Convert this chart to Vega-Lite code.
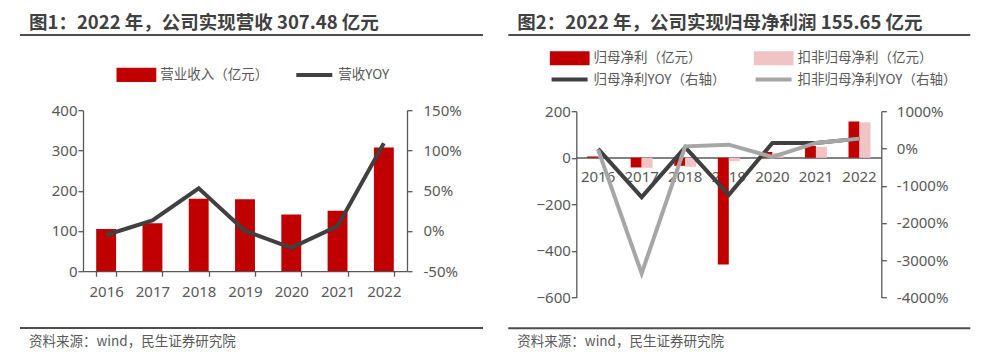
{
  "$schema": "https://vega.github.io/schema/vega-lite/v6.json",
  "padding": {"left": 19, "top": 13, "right": 0, "bottom": 0},
  "background": "white",
  "datasets": {
    "rev": [
      {"year": "2016", "series": "营业收入（亿元）", "value": 105},
      {"year": "2017", "series": "营业收入（亿元）", "value": 119},
      {"year": "2018", "series": "营业收入（亿元）", "value": 180},
      {"year": "2019", "series": "营业收入（亿元）", "value": 179},
      {"year": "2020", "series": "营业收入（亿元）", "value": 141},
      {"year": "2021", "series": "营业收入（亿元）", "value": 150},
      {"year": "2022", "series": "营业收入（亿元）", "value": 307.48}
    ],
    "revyoy": [
      {"year": "2016", "series": "营收YOY", "value": -5},
      {"year": "2017", "series": "营收YOY", "value": 13},
      {"year": "2018", "series": "营收YOY", "value": 53},
      {"year": "2019", "series": "营收YOY", "value": 0},
      {"year": "2020", "series": "营收YOY", "value": -21},
      {"year": "2021", "series": "营收YOY", "value": 6},
      {"year": "2022", "series": "营收YOY", "value": 109}
    ],
    "profit": [
      {"year": "2016", "series": "归母净利（亿元）", "value": 5.6},
      {"year": "2017", "series": "归母净利（亿元）", "value": -41.6},
      {"year": "2018", "series": "归母净利（亿元）", "value": -34.6},
      {"year": "2019", "series": "归母净利（亿元）", "value": -458},
      {"year": "2020", "series": "归母净利（亿元）", "value": 25},
      {"year": "2021", "series": "归母净利（亿元）", "value": 51},
      {"year": "2022", "series": "归母净利（亿元）", "value": 155.65},
      {"year": "2016", "series": "扣非归母净利（亿元）", "value": 1},
      {"year": "2017", "series": "扣非归母净利（亿元）", "value": -43},
      {"year": "2018", "series": "扣非归母净利（亿元）", "value": -39},
      {"year": "2019", "series": "扣非归母净利（亿元）", "value": -14.6},
      {"year": "2020", "series": "扣非归母净利（亿元）", "value": 20},
      {"year": "2021", "series": "扣非归母净利（亿元）", "value": 47},
      {"year": "2022", "series": "扣非归母净利（亿元）", "value": 152}
    ],
    "profityoy": [
      {"year": "2016", "series": "归母净利YOY（右轴）", "value": -13},
      {"year": "2017", "series": "归母净利YOY（右轴）", "value": -1307},
      {"year": "2018", "series": "归母净利YOY（右轴）", "value": 30},
      {"year": "2019", "series": "归母净利YOY（右轴）", "value": -1245},
      {"year": "2020", "series": "归母净利YOY（右轴）", "value": 148},
      {"year": "2021", "series": "归母净利YOY（右轴）", "value": 148},
      {"year": "2022", "series": "归母净利YOY（右轴）", "value": 264},
      {"year": "2016", "series": "扣非归母净利YOY（右轴）", "value": -32},
      {"year": "2017", "series": "扣非归母净利YOY（右轴）", "value": -3354},
      {"year": "2018", "series": "扣非归母净利YOY（右轴）", "value": 57},
      {"year": "2019", "series": "扣非归母净利YOY（右轴）", "value": 102},
      {"year": "2020", "series": "扣非归母净利YOY（右轴）", "value": -229},
      {"year": "2021", "series": "扣非归母净利YOY（右轴）", "value": 148},
      {"year": "2022", "series": "扣非归母净利YOY（右轴）", "value": 264}
    ],
    "deco": [{"k": 1}],
    "none": []
  },
  "config": {
    "view": {"stroke": null},
    "axis": {"labelFont": "Noto Sans", "labelFontSize": 15, "labelColor": "#595959", "domainColor": "#595959", "tickColor": "#595959", "domainWidth": 1.3, "tickWidth": 1.3, "grid": false, "title": null},
    "title": {"font": "Noto Sans CJK SC"}
  },
  "hconcat": [
    {
      "spacing": 27,
      "resolve": {"scale": {"color": "independent"}, "legend": {"color": "independent"}},
      "vconcat": [
        {
          "spacing": 30.2,
          "resolve": {"scale": {"color": "independent"}, "legend": {"color": "independent"}},
          "vconcat": [
            {
              "width": 463, "height": 2,
              "title": {"text": "图1：2022 年，公司实现营收 307.48 亿元", "anchor": "start", "dx": 10, "offset": 2, "fontSize": 18.5, "fontWeight": "bold", "color": "#404040"},
              "data": {"name": "deco"},
              "mark": {"type": "rule", "color": "#4D4D4D", "strokeWidth": 2},
              "encoding": {"y": {"datum": 0.5, "type": "quantitative", "scale": {"domain": [0, 1]}, "axis": null}}
            },
            {
              "spacing": 0.001,
              "resolve": {"scale": {"color": "independent"}, "legend": {"color": "independent"}},
              "hconcat": [
                {
                  "width": 1, "height": 1,
                  "data": {"name": "none"},
                  "mark": {"type": "point"},
                  "encoding": {}
                },
                {
                  "width": 324, "height": 161,
                  "layer": [
                    {
                      "data": {"name": "rev"},
                      "mark": {"type": "bar"},
                      "encoding": {
                        "x": {"field": "year", "type": "ordinal", "scale": {"paddingInner": 0.57, "paddingOuter": 0.285}, "axis": {"labelAngle": 0, "tickBand": "extent", "tickSize": 5, "labelPadding": 8}},
                        "y": {"field": "value", "type": "quantitative", "scale": {"domain": [0, 400], "nice": false}, "axis": {"values": [0, 100, 200, 300, 400], "tickSize": 5, "labelPadding": 1, "minExtent": 61.7}},
                        "color": {"field": "series", "type": "nominal", "scale": {"domain": ["营业收入（亿元）", "营收YOY"], "range": ["#C00000", "#404040"]},
                          "legend": {"title": null, "orient": "none", "legendX": 33.3, "legendY": -43.8, "padding": 0, "direction": "horizontal", "columns": 2, "columnPadding": 26, "clipHeight": 17, "symbolSize": 1296, "labelOffset": 4, "labelFont": "Noto Sans CJK SC", "labelFontSize": 13.5, "labelColor": "#595959", "labelLimit": 300,
                            "encode": {"symbols": {"update": {
                              "shape": {"signal": "datum.value == '营收YOY' ? 'stroke' : 'M-1,-0.28H1V0.28H-1Z'"},
                              "fill": {"signal": "datum.value == '营收YOY' ? 'transparent' : '#C00000'"},
                              "stroke": {"signal": "datum.value == '营收YOY' ? '#404040' : 'transparent'"},
                              "strokeWidth": {"value": 4},
                              "opacity": {"value": 1}
                            }}}
                          }}
                      }
                    },
                    {
                      "data": {"name": "revyoy"},
                      "mark": {"type": "line", "strokeWidth": 4},
                      "encoding": {
                        "x": {"field": "year", "type": "ordinal"},
                        "y": {"field": "value", "type": "quantitative", "scale": {"domain": [-50, 150], "nice": false}, "axis": {"orient": "right", "values": [-50, 0, 50, 100, 150], "labelExpr": "datum.value + '%'", "tickSize": 5, "labelPadding": 11}},
                        "color": {"field": "series", "type": "nominal"}
                      }
                    }
                  ],
                  "resolve": {"scale": {"y": "independent"}}
                }
              ]
            }
          ]
        },
        {
          "width": 463, "height": 2,
          "title": {"text": "资料来源：wind，民生证券研究院", "orient": "bottom", "anchor": "start", "dx": 10, "offset": 6, "fontSize": 13.5, "fontWeight": "normal", "color": "#595959"},
          "data": {"name": "deco"},
          "mark": {"type": "rule", "color": "#4D4D4D", "strokeWidth": 2},
          "encoding": {"y": {"datum": 0.5, "type": "quantitative", "scale": {"domain": [0, 1]}, "axis": null}}
        }
      ]
    },
    {
      "spacing": 21.2,
      "resolve": {"scale": {"color": "independent"}, "legend": {"color": "independent"}},
      "vconcat": [
        {
          "spacing": 13.2,
          "resolve": {"scale": {"color": "independent"}, "legend": {"color": "independent"}},
          "vconcat": [
            {
              "width": 462, "height": 2,
              "title": {"text": "图2：2022 年，公司实现归母净利润 155.65 亿元", "anchor": "start", "dx": 10, "offset": 2, "fontSize": 18.5, "fontWeight": "bold", "color": "#404040"},
              "data": {"name": "deco"},
              "mark": {"type": "rule", "color": "#4D4D4D", "strokeWidth": 2},
              "encoding": {"y": {"datum": 0.5, "type": "quantitative", "scale": {"domain": [0, 1]}, "axis": null}}
            },
            {
              "spacing": 0.001,
              "resolve": {"scale": {"color": "independent"}, "legend": {"color": "independent"}},
              "hconcat": [
                {
                  "width": 1, "height": 1,
                  "data": {"name": "none"},
                  "mark": {"type": "point"},
                  "encoding": {}
                },
                {
                  "width": 305, "height": 186.3,
                  "layer": [
                    {
                      "data": {"name": "profit"},
                      "mark": {"type": "bar"},
                      "encoding": {
                        "x": {"field": "year", "type": "ordinal", "scale": {"paddingInner": 0.495, "paddingOuter": 0.2475}, "axis": {"labelAngle": 0, "ticks": false, "tickSize": 0, "labelPadding": 12, "offset": -140}},
                        "xOffset": {"field": "series", "type": "nominal", "sort": ["归母净利（亿元）", "扣非归母净利（亿元）"], "scale": {"paddingInner": 0, "paddingOuter": 0}},
                        "y": {"field": "value", "type": "quantitative", "scale": {"domain": [-600, 200], "nice": false}, "axis": {"values": [-600, -400, -200, 0, 200], "tickSize": 5, "labelPadding": 1, "minExtent": 66.7}},
                        "color": {"field": "series", "type": "nominal", "scale": {"domain": ["归母净利（亿元）", "扣非归母净利（亿元）", "归母净利YOY（右轴）", "扣非归母净利YOY（右轴）"], "range": ["#C00000", "#F0C4C4", "#404040", "#A6A6A6"]},
                          "legend": {"title": null, "orient": "none", "legendX": -26.7, "legendY": -61.5, "padding": 0, "direction": "horizontal", "columns": 2, "columnPadding": 28, "rowPadding": 4.4, "clipHeight": 17, "symbolSize": 1296, "labelOffset": 4, "labelFont": "Noto Sans CJK SC", "labelFontSize": 13.5, "labelColor": "#595959", "labelLimit": 300,
                            "encode": {"symbols": {"update": {
                              "shape": {"signal": "indexof(datum.value, 'YOY') >= 0 ? 'stroke' : 'M-1,-0.28H1V0.28H-1Z'"},
                              "fill": {"signal": "datum.value == '归母净利（亿元）' ? '#C00000' : datum.value == '扣非归母净利（亿元）' ? '#F0C4C4' : 'transparent'"},
                              "stroke": {"signal": "datum.value == '归母净利YOY（右轴）' ? '#404040' : datum.value == '扣非归母净利YOY（右轴）' ? '#A6A6A6' : 'transparent'"},
                              "strokeWidth": {"value": 4},
                              "opacity": {"value": 1}
                            }}}
                          }}
                      }
                    },
                    {
                      "data": {"name": "profityoy"},
                      "mark": {"type": "line", "strokeWidth": 4},
                      "encoding": {
                        "x": {"field": "year", "type": "ordinal"},
                        "y": {"field": "value", "type": "quantitative", "scale": {"domain": [-4000, 1000], "nice": false}, "axis": {"orient": "right", "values": [-4000, -3000, -2000, -1000, 0, 1000], "labelExpr": "datum.value + '%'", "tickSize": 5, "labelPadding": 10}},
                        "color": {"field": "series", "type": "nominal"}
                      }
                    }
                  ],
                  "resolve": {"scale": {"y": "independent"}}
                }
              ]
            }
          ]
        },
        {
          "width": 462, "height": 2,
          "title": {"text": "资料来源：wind，民生证券研究院", "orient": "bottom", "anchor": "start", "dx": 10, "offset": 6, "fontSize": 13.5, "fontWeight": "normal", "color": "#595959"},
          "data": {"name": "deco"},
          "mark": {"type": "rule", "color": "#4D4D4D", "strokeWidth": 2},
          "encoding": {"y": {"datum": 0.5, "type": "quantitative", "scale": {"domain": [0, 1]}, "axis": null}}
        }
      ]
    }
  ],
  "spacing": 23.3,
  "resolve": {"scale": {"color": "independent"}, "legend": {"color": "independent"}}
}
